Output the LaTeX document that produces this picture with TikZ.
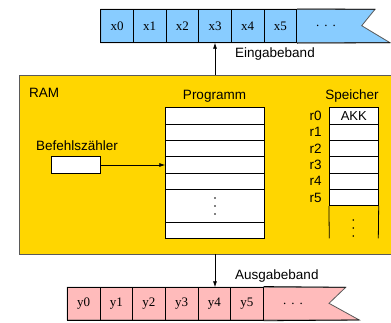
\documentclass[tikz,border=0pt]{standalone}
\usepackage{fontspec}
\setmainfont{Liberation Serif}
\setsansfont{Liberation Sans}
\usetikzlibrary{arrows.meta}
\definecolor{tapeblue}{RGB}{136,204,255}
\definecolor{tapepink}{RGB}{255,187,187}
\definecolor{ramgold}{RGB}{255,214,0}
\definecolor{edgegray}{RGB}{90,90,90}
\begin{document}
\begin{tikzpicture}[x=1pt,y=-1pt,
  cellbox/.style={draw=black,line width=0.8pt,minimum width=32.7pt,minimum height=33.4pt,inner sep=0pt,font=\fontsize{13}{13}\selectfont\rmfamily},
  rowbox/.style={draw=black,line width=0.8pt,fill=white,minimum width=98.3pt,minimum height=16.4pt,inner sep=0pt},
  regbox/.style={draw=black,line width=0.8pt,fill=white,minimum width=49pt,minimum height=16.4pt,inner sep=0pt,font=\fontsize{13}{13}\selectfont\sffamily},
  lbl/.style={inner sep=0pt,font=\fontsize{13.5}{13.5}\selectfont\sffamily},
  rlbl/.style={inner sep=0pt,anchor=east,font=\fontsize{13.5}{13.5}\selectfont\sffamily},
  dotlbl/.style={inner sep=0pt,font=\fontsize{13}{13}\selectfont\rmfamily},
  arr/.style={-{Latex[length=6pt,width=4pt]},line width=0.7pt}]
\useasboundingbox (0,0) rectangle (391,322);

% RAM box
\node[draw=edgegray,line width=1pt,fill=ramgold,minimum width=372pt,minimum height=179pt,inner sep=0pt,anchor=north west] (ram) at (18.5,75) {};
\node[lbl,anchor=west] (ramlbl) at (29,93) {RAM};

% Input tape
\draw[edgegray,line width=0.8pt,fill=tapeblue] (100.7,9.3) -- (375,9.3) -- (361.7,25.7) -- (390,42.7) -- (100.7,42.7) -- cycle;
\foreach \i in {0,...,5} {
  \node[cellbox] (x\i) at ({100.7+32.67*\i+16.33},26) {x\i};
}
\node[dotlbl] (xdots) at (326,26) {.\hspace{5pt}.\hspace{5pt}.};
\draw[black,line width=0.8pt] (x5.north east) -- (375,9.3);
\draw[black,line width=0.8pt] (x5.south east) -- (390,42.7);
\node[lbl,anchor=west] (ein) at (235,54) {Eingabeband};

% Output tape
\draw[edgegray,line width=0.8pt,fill=tapepink] (67.3,287.3) -- (345.7,287.3) -- (329,303.3) -- (359.3,320) -- (67.3,320) -- cycle;
\foreach \i in {0,...,5} {
  \node[cellbox] (y\i) at ({67.3+32.67*\i+16.33},303.65) {y\i};
}
\node[dotlbl] (ydots) at (293,303.65) {.\hspace{5pt}.\hspace{5pt}.};
\draw[black,line width=0.8pt] (y5.north east) -- (345.7,287.3);
\draw[black,line width=0.8pt] (y5.south east) -- (359.3,320);
\node[lbl,anchor=west] (aus) at (235,276) {Ausgabeband};

% Programm
\node[lbl] (prglbl) at (214.5,96) {Programm};
\node[rowbox] (p1) at (214.85,115.9) {};
\node[rowbox] (p2) at (214.85,132.2) {};
\node[rowbox] (p3) at (214.85,148.5) {};
\node[rowbox] (p4) at (214.85,165) {};
\node[rowbox] (p5) at (214.85,181.3) {};
\node[rowbox,minimum height=32.7pt] (p6) at (214.85,205.65) {};
\node[rowbox] (p7) at (214.85,230.15) {};
\foreach \yy in {198,206,214} \fill (215,\yy) circle (0.9pt);

% Befehlszaehler
\node[lbl,anchor=west] (bzlbl) at (36,146) {Befehlszähler};
\node[draw=black,line width=0.8pt,fill=white,minimum width=49pt,minimum height=16.6pt,inner sep=0pt] (bz) at (75.8,165) {};
\draw[arr] (bz.east) -- (p4.west);

% Speicher
\node[lbl] (splbl) at (352,96) {Speicher};
\node[regbox] (r0) at (353.8,115.9) {AKK};
\node[regbox] (r1) at (353.8,132.2) {};
\node[regbox] (r2) at (353.8,148.5) {};
\node[regbox] (r3) at (353.8,165) {};
\node[regbox] (r4) at (353.8,181.3) {};
\node[regbox] (r5) at (353.8,197.6) {};
\draw[black,line width=0.8pt] (r5.south west) -- (329.3,238.3);
\draw[black,line width=0.8pt] (r5.south east) -- (378.3,238.3);
\foreach \yy in {220,228,236} \fill (353.3,\yy) circle (0.9pt);
\foreach \i in {0,...,5} {
  \node[rlbl] (rl\i) at ([xshift=-7pt]r\i.west) {r\i};
}

% arrows
\draw[arr] (215,75) -- (215,42.7);
\draw[arr] (215,254) -- (215,287.3);
\end{tikzpicture}
\end{document}
